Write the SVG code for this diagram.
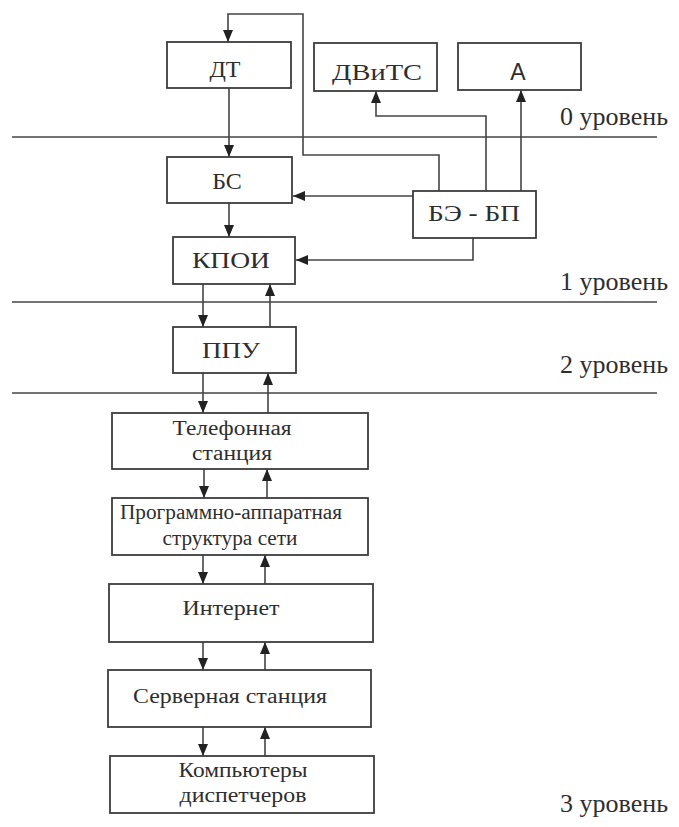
<svg xmlns="http://www.w3.org/2000/svg" width="679" height="827" viewBox="0 0 679 827">
<style>
.box{fill:#fff;stroke:#3c3c3c;stroke-width:1.8}
.lvl{stroke:#444;stroke-width:1.6;fill:none}
.con{stroke:#444;stroke-width:1.6;fill:none}
.t{font-family:"Liberation Serif","Times New Roman",serif;fill:#2e2e2e;text-anchor:middle}
.big{font-size:24px}
.mid{font-size:20px}
.lv{font-family:"Liberation Serif","Times New Roman",serif;fill:#2e2e2e;font-size:26px;text-anchor:end}
.sans{font-family:"Liberation Sans",Arial,sans-serif;fill:#2e2e2e;font-size:23px;text-anchor:middle}
</style>
<defs>
<marker id="ar" viewBox="0 0 12 10" refX="12" refY="5" markerWidth="12" markerHeight="10" markerUnits="userSpaceOnUse" orient="auto">
<path d="M0,0 L12,5 L0,10 Z" fill="#222"/>
</marker>
</defs>
<rect width="679" height="827" fill="#fff"/>
<g id="levels">
<line class="lvl" x1="12" y1="137" x2="657" y2="137"/>
<line class="lvl" x1="12" y1="302" x2="657" y2="302"/>
<line class="lvl" x1="12" y1="393" x2="657" y2="393"/>
<text class="lv" x="668" y="125">0 уровень</text>
<text class="lv" x="668" y="290">1 уровень</text>
<text class="lv" x="668" y="373">2 уровень</text>
<text class="lv" x="668" y="812">3 уровень</text>
</g>
<g id="connectors">
<polyline class="con" points="439,191 439,155 303,155 303,14 228,14 228,42" marker-end="url(#ar)"/>
<line class="con" x1="229" y1="88" x2="229" y2="157" marker-end="url(#ar)"/>
<line class="con" x1="229" y1="203" x2="229" y2="237" marker-end="url(#ar)"/>
<line class="con" x1="413" y1="196" x2="293" y2="196" marker-end="url(#ar)"/>
<polyline class="con" points="473,238 473,260 296,260" marker-end="url(#ar)"/>
<polyline class="con" points="486,191 486,116 376,116 376,91" marker-end="url(#ar)"/>
<line class="con" x1="521" y1="191" x2="521" y2="90" marker-end="url(#ar)"/>
<line class="con" x1="203" y1="284" x2="203" y2="327" marker-end="url(#ar)"/>
<line class="con" x1="270" y1="327" x2="270" y2="284" marker-end="url(#ar)"/>
<line class="con" x1="203" y1="373" x2="203" y2="413" marker-end="url(#ar)"/>
<line class="con" x1="268" y1="413" x2="268" y2="373" marker-end="url(#ar)"/>
<line class="con" x1="204" y1="469" x2="204" y2="498" marker-end="url(#ar)"/>
<line class="con" x1="267" y1="498" x2="267" y2="469" marker-end="url(#ar)"/>
<line class="con" x1="203" y1="555" x2="203" y2="584" marker-end="url(#ar)"/>
<line class="con" x1="265" y1="584" x2="265" y2="555" marker-end="url(#ar)"/>
<line class="con" x1="203" y1="642" x2="203" y2="670" marker-end="url(#ar)"/>
<line class="con" x1="265" y1="670" x2="265" y2="642" marker-end="url(#ar)"/>
<line class="con" x1="203" y1="727" x2="203" y2="756" marker-end="url(#ar)"/>
<line class="con" x1="265" y1="756" x2="265" y2="727" marker-end="url(#ar)"/>
</g>
<g id="DT"><rect class="box" x="167" y="42" width="124" height="46"/><text class="t big" x="225" y="77">ДТ</text></g>
<g id="DViTS"><rect class="box" x="314" y="43" width="123" height="48"/><text class="t big" x="377" y="80" textLength="90" lengthAdjust="spacingAndGlyphs">ДВиТС</text></g>
<g id="A"><rect class="box" x="458" y="43" width="123" height="47"/><text class="sans" x="518" y="80">А</text></g>
<g id="BS"><rect class="box" x="167" y="157" width="125" height="46"/><text class="t big" x="227" y="189">БС</text></g>
<g id="BE-BP"><rect class="box" x="413" y="191" width="123" height="47"/><text class="t big" x="474" y="221" textLength="92" lengthAdjust="spacingAndGlyphs">БЭ - БП</text></g>
<g id="KPOI"><rect class="box" x="173" y="237" width="122" height="47"/><text class="t big" x="231" y="268" textLength="78" lengthAdjust="spacingAndGlyphs">КПОИ</text></g>
<g id="PPU"><rect class="box" x="173" y="327" width="123" height="46"/><text class="t big" x="231" y="358" textLength="58" lengthAdjust="spacingAndGlyphs">ППУ</text></g>
<g id="tel"><rect class="box" x="112" y="413" width="256" height="56"/><text class="t mid" x="232" y="435" textLength="119" lengthAdjust="spacingAndGlyphs">Телефонная</text><text class="t mid" x="232" y="460" textLength="80" lengthAdjust="spacingAndGlyphs">станция</text></g>
<g id="prog"><rect class="box" x="112" y="498" width="256" height="57"/><text class="t mid" x="231" y="519" textLength="222" lengthAdjust="spacingAndGlyphs">Программно-аппаратная</text><text class="t mid" x="230" y="545" textLength="135" lengthAdjust="spacingAndGlyphs">структура сети</text></g>
<g id="inet"><rect class="box" x="109" y="584" width="264" height="58"/><text class="t mid" x="231" y="615" textLength="97" lengthAdjust="spacingAndGlyphs">Интернет</text></g>
<g id="serv"><rect class="box" x="108" y="670" width="263" height="57"/><text class="t mid" x="230" y="703" textLength="194" lengthAdjust="spacingAndGlyphs">Серверная станция</text></g>
<g id="comp"><rect class="box" x="110" y="756" width="264" height="57"/><text class="t mid" x="243" y="777" textLength="129" lengthAdjust="spacingAndGlyphs">Компьютеры</text><text class="t mid" x="243" y="802" textLength="127" lengthAdjust="spacingAndGlyphs">диспетчеров</text></g>
</svg>
